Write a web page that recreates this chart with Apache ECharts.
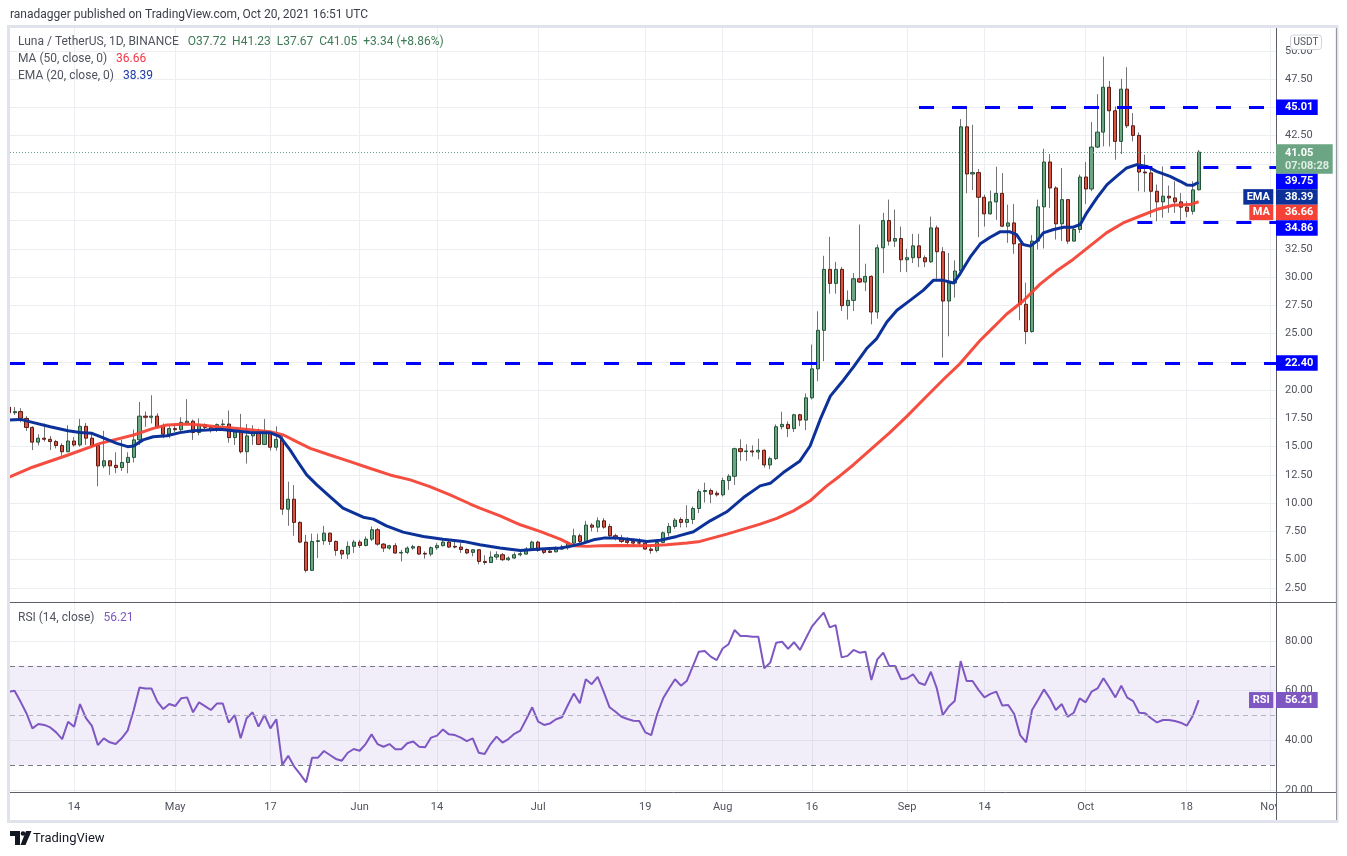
<!DOCTYPE html>
<html><head><meta charset="utf-8">
<script src="https://cdn.jsdelivr.net/npm/echarts@6/dist/echarts.min.js"></script>
<style>html,body{margin:0;padding:0;background:#fff;}#c{width:1347px;height:856px;}</style>
</head><body><div id="c"></div>
<script>
// ---------------- DATA ----------------
const startDate = '2021-04-03'; // day index 0
const open = [18.5,18.0,18.1,17.5,16.7,15.4,15.75,15.65,15.45,15.1, 14.55,15.5,15.15,16.8,15.75,15.1,13.3,13.75,13.35,13.15, 13.6,14.05,15.6,17.7,17.6,17.7,16.8,16.1,16.6,16.5, 17.1,17.25,16.25,16.95,16.7,16.5,16.95,17.0,15.8,16.3, 14.55,15.95,16.3,15.2,16.2,14.95,15.65,9.47,10.35,8.3, 6.56,4.06,6.62,6.68,7.35,6.62,5.82,5.5,6.18,6.56, 6.26,6.82,7.65,6.38,6.03,6.24,5.59,5.65,6.03,6.15, 5.56,5.5,6.06,6.24,6.56,6.18,6.12,5.9,5.65,5.88, 4.85,4.75,5.24,5.44,5.0,5.15,5.44,5.5,5.94,6.56, 5.88,5.76,5.7,5.94,6.06,6.47,7.12,6.62,8.06,7.88, 8.44,7.94,7.12,6.9,6.68,6.6,6.5,6.47,5.94,5.82, 6.53,7.38,7.94,8.56,8.3,8.56,9.53,11.03,11.12,10.88, 10.74,12.0,12.38,14.82,14.56,14.62,14.53,14.68,13.38,13.94, 16.76,16.97,16.6,17.82,17.35,19.32,21.88,25.29,30.68,29.44, 30.68,27.47,27.94,29.85,29.56,30.06,26.91,32.59,35.0,33.18, 33.41,31.53,31.71,32.76,31.71,31.35,34.35,32.24,27.88,29.47, 30.53,43.29,39.12,39.24,37.06,35.59,36.65,37.4,34.5,34.79, 32.94,27.59,25.18,33.18,36.21,40.18,37.88,34.71,36.85,33.18, 34.21,38.85,37.79,41.5,42.82,46.79,44.71,42.0,46.62,43.38, 42.53,39.29,39.21,37.59,36.65,37.15,37.0,36.65,36.18,35.82, 37.72];
const close = [18.0,18.1,17.5,16.7,15.4,15.75,15.65,15.45,15.1,14.55, 15.5,15.15,16.8,15.75,15.1,13.3,13.75,13.3,13.15,13.6, 14.05,15.6,17.7,17.6,17.7,16.75,16.1,16.6,16.5,17.15, 17.25,16.25,16.95,16.7,16.5,16.95,17.0,15.8,16.3,14.55, 15.95,16.3,15.2,16.2,14.95,15.65,9.47,10.35,8.3,6.56, 4.06,6.62,6.68,7.35,6.62,5.82,5.5,6.18,6.56,6.26, 6.82,7.65,6.38,6.03,6.24,5.59,5.65,6.03,6.15,5.5, 5.5,6.06,6.24,6.56,6.12,6.12,5.9,5.6,5.88,4.85, 4.75,5.24,5.44,5.0,5.15,5.44,5.53,5.94,6.56,5.82, 5.65,5.65,5.94,6.1,6.47,7.12,6.62,8.06,7.88,8.44, 7.88,7.12,6.88,6.62,6.53,6.47,6.47,5.94,5.82,6.53, 7.38,7.94,8.5,8.3,8.56,9.53,11.03,11.12,10.8,10.74, 12.0,12.38,14.82,14.56,14.62,14.53,14.68,13.38,13.94,16.76, 16.97,16.6,17.82,17.35,19.32,21.88,25.29,30.68,29.44,30.68, 27.47,27.94,29.85,29.56,30.06,26.91,32.59,35.0,33.18,33.41, 31.53,31.71,32.76,31.71,31.35,34.35,32.24,27.88,29.47,30.53, 43.29,39.12,39.24,37.06,35.59,36.65,37.4,34.5,34.79,32.94, 27.59,25.18,33.18,36.21,40.18,37.88,34.71,36.85,33.18,34.21, 38.85,37.79,41.5,42.82,46.79,44.71,42.0,46.62,43.38,42.53, 39.29,39.21,37.59,36.65,37.15,37.0,36.65,36.18,35.82,37.71, 41.05];
const low = [17.9,17.8,17.15,16.4,14.7,15.1,15.45,14.7,14.85,14.2, 14.5,15.0,15.0,15.15,14.95,11.5,13.1,12.5,12.65,12.85, 12.65,13.6,15.15,16.75,17.05,16.6,15.75,15.75,16.3,16.3, 16.9,15.6,16.0,16.45,16.25,16.3,16.7,15.35,15.15,14.4, 13.5,15.15,15.15,15.15,14.65,14.65,8.97,8.0,7.12,6.47, 3.88,4.0,5.15,6.32,6.3,5.35,5.06,5.06,5.6,6.03, 6.18,6.65,6.24,5.68,5.88,5.53,4.85,5.5,5.88,5.44, 5.1,5.3,5.88,6.18,6.03,6.0,5.6,5.5,5.3,4.6, 4.55,4.7,5.0,4.9,4.9,5.06,5.3,5.44,5.88,5.7, 5.5,5.6,5.65,5.88,5.88,6.38,6.32,6.53,7.5,7.44, 7.74,7.0,6.7,6.47,6.18,6.18,6.3,5.9,5.53,5.65, 6.47,7.06,7.74,7.85,7.85,8.15,9.12,10.06,10.0,10.59, 10.59,11.18,11.62,13.74,13.74,14.12,13.88,13.15,13.0,13.82, 16.53,15.85,16.29,16.82,16.47,19.18,20.79,22.56,28.53,28.53, 27.0,26.24,27.0,29.47,28.76,25.82,26.32,30.35,32.79,32.65, 30.44,30.44,31.24,30.88,30.88,31.24,29.85,22.88,24.76,28.18, 30.44,37.41,37.7,33.53,34.47,35.53,35.06,34.41,33.03,32.06, 26.18,24.06,25.09,32.44,32.53,36.12,33.32,33.18,32.94,33.18, 33.91,36.47,37.59,41.41,41.56,41.56,40.38,40.88,43.18,42.0, 37.59,37.53,35.29,34.94,35.24,35.68,35.68,35.0,35.29,35.53, 37.67];
const high = [18.6,18.5,18.4,17.7,16.8,16.1,17.05,15.95,15.6,15.3, 16.9,15.85,17.45,17.1,16.3,15.2,16.4,13.8,14.5,15.6, 14.5,16.5,18.95,18.1,19.55,17.95,17.05,16.8,17.05,17.6, 19.2,17.4,17.5,17.05,16.9,17.05,17.4,18.2,16.5,17.9, 17.0,16.9,16.6,17.45,16.35,16.8,15.95,11.9,11.6,8.4, 7.2,7.3,7.3,8.0,7.4,6.7,5.9,6.62,6.76,6.76, 7.06,7.94,7.8,6.47,6.32,6.47,5.88,6.18,6.32,6.24, 5.74,6.18,6.47,6.82,6.76,6.6,6.47,6.0,5.94,5.94, 5.4,5.74,5.74,5.6,5.3,5.65,5.74,6.12,6.68,6.68, 6.03,5.94,6.18,6.32,6.62,7.74,7.3,8.44,8.24,8.74, 8.68,8.18,7.3,7.2,7.0,6.76,6.9,6.53,6.18,6.76, 7.5,8.24,8.68,8.75,9.82,9.7,11.24,11.82,11.3,11.09, 12.26,12.56,14.91,15.65,15.2,15.12,15.7,14.76,14.12,16.97, 18.09,17.24,17.91,17.91,19.71,24.03,26.97,31.88,33.56,31.35, 30.88,28.82,30.35,34.65,31.18,30.15,32.88,35.68,36.85,35.97, 34.47,32.5,33.82,33.82,31.91,35.35,34.56,32.65,32.12,31.47, 43.97,45.0,43.47,39.56,37.29,37.65,39.76,39.2,36.41,36.47, 32.94,29.5,33.71,36.85,41.35,40.88,38.03,39.65,36.85,34.5, 39.06,40.18,43.71,46.18,49.5,47.35,45.09,47.53,48.56,44.5, 42.8,40.82,39.65,38.18,39.79,38.09,38.47,37.44,36.71,38.47, 41.23];
// EMA(20) and MA(50) as [dayIndex, value] readings
const ema20 = [[0,17.35],[2,17.41],[4,17.15],[7,16.76],[10,16.41],[12,16.26],[14,16.18],[15.4,15.88],[18.2,15.29],[20,15.0],[21,15.06],[22.6,15.6],[24.3,15.88],[26.6,15.97],[28.8,16.24],[31,16.41],[33.3,16.47],[35.5,16.53],[37.8,16.41],[40.6,16.26],[43.9,16.24],[45.6,15.88],[47.3,14.71],[48.4,13.82],[50.1,12.5],[51.8,11.62],[54,10.59],[56.2,9.56],[59.6,8.76],[61.3,8.59],[63.5,8.0],[66.3,7.44],[69.7,7.06],[73,6.82],[76.4,6.62],[79.2,6.32],[82.6,6.03],[86,5.82],[89.3,5.94],[92.7,6.03],[94.4,6.18],[96.6,6.47],[98.3,6.76],[100,6.91],[102.2,6.91],[105,6.76],[107.3,6.62],[109.5,6.72],[112.3,7.06],[115.1,7.47],[117.9,8.44],[120.7,9.24],[123.5,10.5],[126.3,11.53],[128,11.76],[130.2,12.71],[133,13.74],[134.7,15.06],[136.4,17.41],[138.1,19.47],[139.7,20.5],[140.3,20.88],[142,22.06],[144.2,23.68],[145.9,24.56],[147.6,26.03],[149.3,27.06],[151.5,27.94],[153.7,28.82],[155.4,29.71],[157.1,29.71],[158.8,29.47],[159.9,30.29],[161.6,31.76],[163.3,32.94],[164.9,33.5],[166.6,34.0],[168.3,34.0],[169.4,33.76],[170.5,32.88],[171.7,32.74],[172.8,33.18],[173.9,33.91],[175.6,34.21],[177.3,34.41],[178.9,34.41],[180.1,34.65],[181.2,35.68],[182.9,37.0],[184.6,38.18],[186.2,38.91],[187.9,39.65],[189.6,39.94],[191.3,39.79],[192.9,39.35],[195.2,38.91],[196.9,38.47],[198,38.15],[199,38.11],[200,38.39]];
const ma50 = [[0,12.29],[4,13.18],[10,14.26],[15.4,15.29],[21,16.03],[24.3,16.62],[26.6,16.91],[30,17.0],[32.2,16.91],[35,16.76],[38,16.62],[43.9,16.32],[46.2,16.03],[48.4,15.44],[50.7,14.85],[54,14.26],[57.4,13.68],[60.7,13.09],[64.1,12.5],[67.5,12.06],[70.8,11.47],[74.2,10.74],[77.5,9.95],[79.2,9.56],[82.6,8.88],[86,8.09],[89.3,7.5],[92.7,6.82],[94.9,6.24],[97.2,6.18],[99.4,6.24],[102.8,6.26],[107.3,6.24],[110.6,6.32],[114,6.47],[116.2,6.62],[120.7,7.26],[126.3,8.15],[129.1,8.65],[131.9,9.32],[134.7,10.21],[137.5,11.53],[139.7,12.41],[142,13.4],[145,14.8],[148,16.2],[151,17.7],[154,19.3],[157.1,20.94],[159.9,22.35],[163.3,24.41],[164.9,25.24],[166.7,26.18],[167.7,26.71],[170.5,27.88],[173.3,29.35],[176.1,30.53],[178.9,31.56],[181.7,32.74],[184.5,33.91],[187.3,34.79],[190.1,35.38],[192.9,35.97],[195.7,36.35],[198.5,36.41],[200,36.66]];
const rsi14 = [59.5,60.0,55.6,50.9,44.8,46.6,46.2,45.2,43.2,40.5, 47.5,45.5,54.6,48.9,45.8,38.1,40.8,39.2,38.5,40.8, 43.9,51.9,61.3,60.9,60.9,55.6,52.6,54.6,53.8,56.9, 57.3,51.3,55.3,53.8,52.2,54.8,54.8,47.1,50.2,40.8, 48.9,51.3,45.5,50.2,44.8,48.5,30.1,33.8,29.4,26.4, 23.1,33.0,33.0,35.7,34.1,32.5,31.8,35.0,36.5,35.8, 38.5,42.4,38.5,37.4,38.5,36.4,36.4,38.8,39.5,37.4, 37.2,41.1,41.9,44.4,42.4,42.1,41.1,39.7,40.8,35.0, 34.5,38.5,41.5,39.1,40.5,42.6,43.9,48.5,53.3,47.5, 46.2,46.8,48.5,49.3,54.2,58.9,54.9,64.6,62.6,65.6, 59.6,53.3,51.5,49.5,48.6,47.9,47.8,43.2,42.1,50.6, 56.9,60.9,64.6,62.0,64.0,69.9,75.7,76.0,73.7,72.3, 77.0,78.7,84.4,82.0,82.0,81.7,81.7,69.0,71.3,79.3, 79.7,76.8,79.5,76.4,81.1,85.8,88.7,91.4,85.5,86.4, 73.4,74.0,76.4,75.3,75.7,64.3,72.6,75.3,69.9,69.9, 64.6,65.0,66.6,63.2,62.3,67.6,60.9,50.2,53.6,55.8, 71.9,63.9,63.9,60.3,57.3,58.7,59.6,54.0,54.2,50.6, 42.1,39.2,52.2,56.2,60.5,56.9,52.2,54.6,49.5,51.1, 56.9,55.3,59.6,60.9,65.0,61.3,57.3,62.0,57.2,55.8, 51.1,50.9,48.9,47.2,48.2,48.2,47.8,47.1,45.9,49.8, 56.21];
// horizontal levels drawn by the author, and the day where each starts
const levels = [45.01, 39.75, 34.86, 22.40];
const levelStartDay = [153, 189.7, 189.7, null];
// tick labels
const priceTicks = [2.5,5,7.5,10,12.5,15,17.5,20,22.5,25,27.5,30,32.5,35,37.5,40,42.5,45,47.5,50];
const rsiTicks = [20,40,60,80];
const xTickDates = ['2021-04-14','2021-05-01','2021-05-17','2021-06-01','2021-06-14','2021-07-01','2021-07-19','2021-08-01','2021-08-16','2021-09-01','2021-09-14','2021-10-01','2021-10-18','2021-11-01'];
const countdown = '07:08:28';

// ---------------- BUILD ----------------
const FONT = 'Roboto, "Noto Sans", sans-serif';
const TXT = '#50535e', GRID = '#eceef2';
const monthNames = ['Jan','Feb','Mar','Apr','May','Jun','Jul','Aug','Sep','Oct','Nov','Dec'];
const dayIndex = d => Math.round((Date.parse(d+'T00:00:00Z') - Date.parse(startDate+'T00:00:00Z'))/86400000);
const xTickIdx = xTickDates.map(dayIndex);
const xTickText = {};
xTickDates.forEach((d,k)=>{const dt=new Date(d+'T00:00:00Z'); xTickText[xTickIdx[k]] = dt.getUTCDate()===1 ? monthNames[dt.getUTCMonth()] : String(dt.getUTCDate());});
const X_MIN = 0.235, X_MAX = 213.0;
const last = open.length - 1;
const candles = open.map((o,i)=>[i,o,close[i],low[i],high[i]]);
const bodies = open.map((o,i)=>[i,o,close[i],Math.min(o,close[i]),Math.max(o,close[i])]);
const rsiData = rsi14.map((v,i)=>[i,v]);

const xBase = {type:'value', min:X_MIN, max:X_MAX, axisLine:{show:false}, axisTick:{show:false, customValues:xTickIdx}, splitLine:{show:true, lineStyle:{color:GRID,width:1}}};
const levelLines = levels.map((v,k)=>[{coord:[levelStartDay[k]==null?X_MIN:levelStartDay[k], v]},{coord:[X_MAX, v]}]);

const chart = echarts.init(document.getElementById('c'));
chart.setOption({
  animation:false, backgroundColor:'#ffffff', textStyle:{fontFamily:FONT},
  grid:[{left:10, top:28, width:1266, height:574},{left:10, top:603, width:1266, height:189}],
  xAxis:[
    Object.assign({}, xBase, {gridIndex:0, axisLabel:{show:false, customValues:xTickIdx}}),
    Object.assign({}, xBase, {gridIndex:1, axisLabel:{show:true, customValues:xTickIdx, formatter:v=>xTickText[Math.round(v)]||'', color:TXT, fontSize:11, margin:10, fontFamily:FONT}})
  ],
  yAxis:[
    {type:'value', gridIndex:0, position:'right', min:1.26, max:52.03, axisLine:{show:false}, axisTick:{show:false, customValues:priceTicks}, axisLabel:{customValues:priceTicks, formatter:v=>v.toFixed(2), color:TXT, fontSize:11, margin:9, fontFamily:FONT}, splitLine:{show:true, lineStyle:{color:GRID}}},
    {type:'value', gridIndex:1, position:'right', min:19.19, max:95.3, axisLine:{show:false}, axisTick:{show:false, customValues:rsiTicks}, axisLabel:{customValues:rsiTicks, formatter:v=>v.toFixed(2), color:TXT, fontSize:11, margin:9, fontFamily:FONT}, splitLine:{show:true, lineStyle:{color:GRID}}}
  ],
  series:[
    {type:'candlestick', xAxisIndex:0, yAxisIndex:0, data:candles, encode:{x:0,y:[1,2,3,4]}, barWidth:0.1, silent:true,
     itemStyle:{color:'#737375', color0:'#737375', borderColor:'#737375', borderColor0:'#737375', borderWidth:1}},
    {type:'candlestick', xAxisIndex:0, yAxisIndex:0, data:bodies, encode:{x:0,y:[1,2,3,4]}, barWidth:3.6, silent:true,
     itemStyle:{color:'#6ba583', color0:'#d75442', borderColor:'#225437', borderColor0:'#5b1a13', borderWidth:1}},
    {type:'line', xAxisIndex:0, yAxisIndex:0, data:ma50, showSymbol:false, symbol:'none', silent:true, lineStyle:{color:'#f44336', width:3, opacity:0.95}},
    {type:'line', xAxisIndex:0, yAxisIndex:0, data:ema20, showSymbol:false, symbol:'none', silent:true, lineStyle:{color:'#0c3299', width:3},
     markLine:{silent:true, symbol:['none','none'], label:{show:false}, animation:false,
       data:[
         ...levelLines.map(l=>Object.assign([], l)),
         [{coord:[X_MIN, close[last]], lineStyle:{color:'#6ba583', width:1, type:[1,2]}},{coord:[X_MAX, close[last]]}]
       ],
       lineStyle:{color:'#0000ff', width:3, type:[15,18]}}},
    {type:'line', xAxisIndex:1, yAxisIndex:1, data:rsiData, showSymbol:false, symbol:'none', silent:true, lineStyle:{color:'#7e57c2', width:2},
     markArea:{silent:true, itemStyle:{color:'rgba(126,87,194,0.1)'}, data:[[{yAxis:30},{yAxis:70}]]},
     markLine:{silent:true, symbol:['none','none'], label:{show:false}, animation:false,
       data:[{yAxis:70, lineStyle:{color:'#787b86'}},{yAxis:50, lineStyle:{color:'#b2b5be'}},{yAxis:30, lineStyle:{color:'#787b86'}}],
       lineStyle:{width:1, type:[5,4]}}}
  ]
});

// ---------------- overlay: frame, legends, price boxes ----------------
const p0 = (x,y)=>chart.convertToPixel({gridIndex:0},[x,y]);
const p1 = (x,y)=>chart.convertToPixel({gridIndex:1},[x,y]);
const axisX = p0(X_MAX, 10)[0];
const els = [];
const txt = (x,y,text,opt)=>els.push({type:'text', z:120, style:Object.assign({x, y, text, font:'11px '+FONT, fill:TXT, align:'left', verticalAlign:'middle'}, opt||{})});
// frame and separators
els.push({type:'rect', z:110, shape:{x:8.5,y:26.5,width:1328.5,height:795}, style:{fill:'none', stroke:'#e0e3eb', lineWidth:3}});
els.push({type:'rect', z:111, shape:{x:axisX+1,y:793,width:60,height:27}, style:{fill:'#ffffff'}});
els.push({type:'line', z:112, shape:{x1:10,y1:602.5,x2:1337,y2:602.5}, style:{stroke:'#5d606b', lineWidth:1}});
els.push({type:'line', z:112, shape:{x1:10,y1:792.5,x2:1337,y2:792.5}, style:{stroke:'#5d606b', lineWidth:1}});
els.push({type:'line', z:112, shape:{x1:axisX+0.5,y1:28,x2:axisX+0.5,y2:820}, style:{stroke:'#5d606b', lineWidth:1}});
els.push({type:'line', z:112, shape:{x1:1336.5,y1:28,x2:1336.5,y2:820}, style:{stroke:'#9598a1', lineWidth:1}});
// header & legends
txt(10, 15, 'ranadagger published on TradingView.com, Oct 20, 2021 16:51 UTC', {font:'12px '+FONT, fill:'#3b3e48'});
const chg = close[last]-close[last-1];
const green = '#3d7a55';
const LF = '12px '+FONT;
els.push({type:'text', z:120, style:{x:18, y:42, verticalAlign:'middle', font:LF,
  text:'{a|Luna / TetherUS, 1D, BINANCE}   {b|O'+open[last].toFixed(2)+'  H'+high[last].toFixed(2)+'  L'+low[last].toFixed(2)+'  C'+close[last].toFixed(2)+'  '+(chg>=0?'+':'')+chg.toFixed(2)+' (+'+(chg/close[last-1]*100).toFixed(2)+'%)}',
  rich:{a:{fill:TXT, font:LF}, b:{fill:green, font:LF}}}});
const maLast = ma50[ma50.length-1][1], emaLast = ema20[ema20.length-1][1], rsiLast = rsi14[last];
els.push({type:'text', z:120, style:{x:18, y:59, verticalAlign:'middle', font:LF, text:'{a|MA (50, close, 0)}   {b|'+maLast.toFixed(2)+'}', rich:{a:{fill:TXT,font:LF}, b:{fill:'#f23645',font:LF}}}});
els.push({type:'text', z:120, style:{x:18, y:76, verticalAlign:'middle', font:LF, text:'{a|EMA (20, close, 0)}   {b|'+emaLast.toFixed(2)+'}', rich:{a:{fill:TXT,font:LF}, b:{fill:'#1b3aa8',font:LF}}}});
els.push({type:'text', z:120, style:{x:18, y:618, verticalAlign:'middle', font:LF, text:'{a|RSI (14, close)}   {b|'+rsiLast.toFixed(2)+'}', rich:{a:{fill:TXT,font:LF}, b:{fill:'#7e57c2',font:LF}}}});
// USDT badge
els.push({type:'rect', z:121, shape:{x:1290.5,y:35,width:31,height:14.5,r:3}, style:{fill:'#ffffff', stroke:'#d1d4dc', lineWidth:1}});
els.push({type:'text', z:122, style:{x:1306, y:42.5, text:'USDT', font:'10px '+FONT, align:'center', verticalAlign:'middle', fill:'#50535e'}});
// price boxes stacked to avoid overlap (as TradingView does)
const boxes = [
  {v:levels[0], bg:'#0000ff', t:levels[0].toFixed(2)},
  {v:levels[1], bg:'#0000ff', t:levels[1].toFixed(2)},
  {v:levels[2], bg:'#0000ff', t:levels[2].toFixed(2)},
  {v:levels[3], bg:'#0000ff', t:levels[3].toFixed(2)},
  {v:close[last], bg:'#6ba583', t:close[last].toFixed(2), sub:countdown, h:29.5, above:8, w:56.7},
  {v:emaLast, bg:'#0c3299', t:emaLast.toFixed(2), tag:'EMA', tagW:30},
  {v:maLast, bg:'#f44336', t:maLast.toFixed(2), tag:'MA', tagW:24}
];
boxes.forEach(b=>{ b.y = p0(X_MAX, b.v)[1]; b.h = b.h||15.5; b.above = b.above==null ? b.h/2 : b.above; b.w = b.w||41.7; });
boxes.sort((a,b)=>a.y-b.y);
let prevBottom = -1e9;
const drawBox = (b, top)=>{
  els.push({type:'rect', z:130, shape:{x:axisX, y:top, width:b.w, height:b.h}, style:{fill:b.bg}});
  els.push({type:'text', z:131, style:{x:axisX+9, y:top+(b.sub?9:b.h/2), text:b.t, font:'bold 11px '+FONT, fill:'#ffffff', align:'left', verticalAlign:'middle'}});
  if (b.sub) els.push({type:'text', z:131, style:{x:axisX+9, y:top+22, text:b.sub, font:'bold 11px '+FONT, fill:'rgba(255,255,255,0.8)', align:'left', verticalAlign:'middle'}});
  if (b.tag) {
    els.push({type:'rect', z:130, shape:{x:axisX-2.7-b.tagW, y:top, width:b.tagW, height:b.h}, style:{fill:b.bg}});
    els.push({type:'text', z:131, style:{x:axisX-2.7-b.tagW/2, y:top+b.h/2, text:b.tag, font:'bold 11px '+FONT, fill:'#ffffff', align:'center', verticalAlign:'middle'}});
  }
};
boxes.forEach(b=>{ let top = b.y - b.above; if (top < prevBottom) top = prevBottom; drawBox(b, top); prevBottom = top + b.h; });
// RSI box
const ry = p1(X_MAX, rsiLast)[1];
drawBox({bg:'#7e57c2', t:rsiLast.toFixed(2), tag:'RSI', tagW:24.3, h:16, w:41.7}, ry-8);
// TradingView logo
els.push({type:'polygon', z:120, shape:{points:[[10,831],[20,831],[20,845],[15,845],[15,836],[10,836]]}, style:{fill:'#131722'}});
els.push({type:'circle', z:120, shape:{cx:23,cy:833.5,r:2.3}, style:{fill:'#131722'}});
els.push({type:'polygon', z:120, shape:{points:[[26,831],[31.5,831],[25.5,845],[20.5,845]]}, style:{fill:'#131722'}});
txt(33, 838.5, 'TradingView', {font:'13px '+FONT, fill:'#131722'});
chart.setOption({graphic:{elements:els}});
</script>
</body></html>
